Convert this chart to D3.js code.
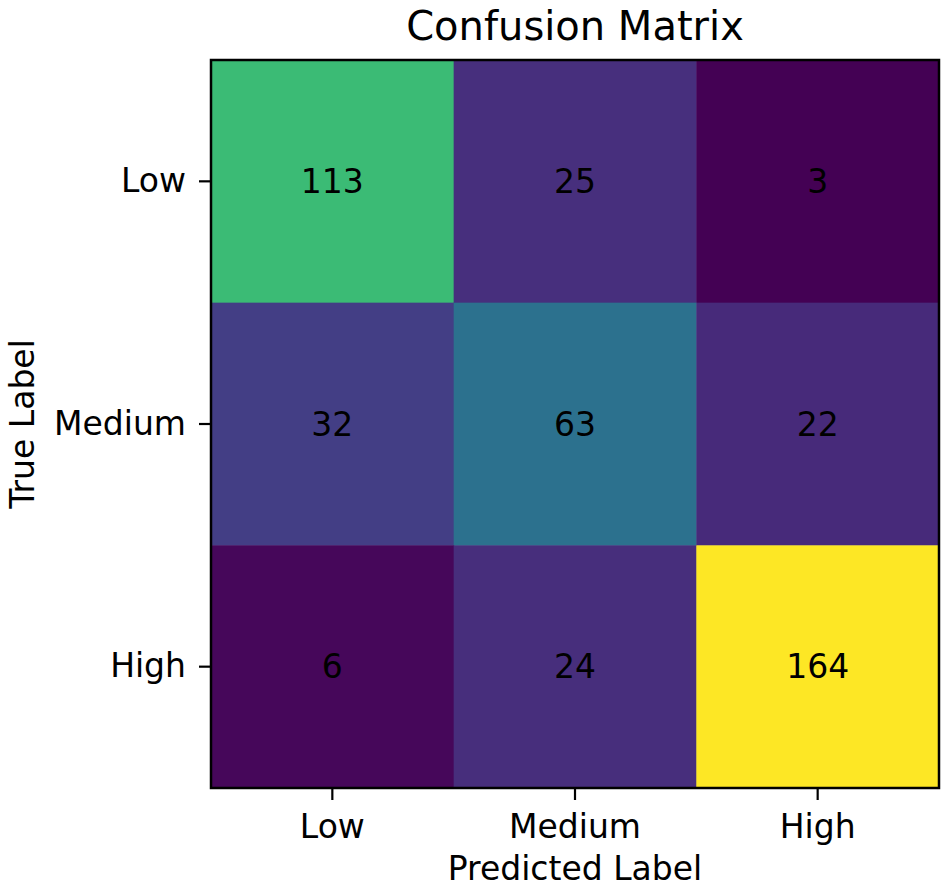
<!DOCTYPE html>
<html>
<meta charset="utf-8">
<style>
  body { margin: 0; background: #fff; }
  text { font-family: "DejaVu Sans", sans-serif; fill: #000; }
</style>
<body>
<script src="https://d3js.org/d3.v7.min.js"></script>
<script>
  // confusion matrix values (rows = true label, cols = predicted label)
  let labels = ["Low", "Medium", "High"];
  let rowLow = [113, 25, 3];
  let rowMedium = [32, 63, 22];
  let rowHigh = [6, 24, 164];
  let matrix = [rowLow, rowMedium, rowHigh];

  let width = 950,
    height = 891;
  let plotLeft = 211, plotTop = 60, size = 728;

  let svg = d3.select("body").append("svg")
    .attr("width", width)
    .attr("height", height);

  let x = d3.scaleBand().domain(labels).range([plotLeft, plotLeft + size]);
  let y = d3.scaleBand().domain(labels).range([plotTop, plotTop + size]);

  let all = matrix.flat();
  let color = d3.scaleSequential(d3.interpolateViridis)
    .domain([d3.min(all), d3.max(all)]);

  let cells = [];
  matrix.forEach((row, i) => row.forEach((v, j) => {
    cells.push({ t: labels[i], p: labels[j], v: v });
  }));

  // heatmap cells
  svg.selectAll(".cell")
    .data(cells)
    .enter().append("rect")
    .attr("class", "cell")
    .attr("x", d => x(d.p))
    .attr("y", d => y(d.t))
    .attr("width", x.bandwidth() + 0.5)
    .attr("height", y.bandwidth() + 0.5)
    .attr("fill", d => color(d.v));

  // cell counts
  svg.selectAll(".val")
    .data(cells)
    .enter().append("text")
    .attr("class", "val")
    .attr("x", d => x(d.p) + x.bandwidth() / 2)
    .attr("y", d => y(d.t) + y.bandwidth() / 2)
    .attr("text-anchor", "middle")
    .attr("dominant-baseline", "central")
    .style("font-size", "33px")
    .text(d => d.v);

  // axes
  let xAxis = svg.append("g")
    .attr("transform", `translate(0,${plotTop + size})`)
    .call(d3.axisBottom(x).tickSize(12).tickPadding(9));
  let yAxis = svg.append("g")
    .attr("transform", `translate(${plotLeft},0)`)
    .call(d3.axisLeft(y).tickSize(12).tickPadding(13));

  [xAxis, yAxis].forEach(g => {
    g.select(".domain").remove();
    g.selectAll(".tick line").attr("stroke", "#000").attr("stroke-width", 2.2);
    g.selectAll(".tick text")
      .style("font-size", "33px")
      .style("font-family", "'DejaVu Sans', sans-serif")
      .attr("fill", "#000");
  });
  xAxis.selectAll(".tick text").attr("dy", "0.88em");

  // frame
  svg.append("rect")
    .attr("x", plotLeft)
    .attr("y", plotTop)
    .attr("width", size)
    .attr("height", size)
    .attr("fill", "none")
    .attr("stroke", "#000")
    .attr("stroke-width", 2.5);

  // titles
  svg.append("text")
    .attr("x", plotLeft + size / 2)
    .attr("y", 40)
    .attr("text-anchor", "middle")
    .style("font-size", "40px")
    .text("Confusion Matrix");

  svg.append("text")
    .attr("x", plotLeft + size / 2)
    .attr("y", 880)
    .attr("text-anchor", "middle")
    .style("font-size", "33px")
    .text("Predicted Label");

  svg.append("text")
    .attr("transform", `translate(34,${plotTop + size / 2}) rotate(-90)`)
    .attr("text-anchor", "middle")
    .style("font-size", "33px")
    .text("True Label");
</script>
</body>
</html>
